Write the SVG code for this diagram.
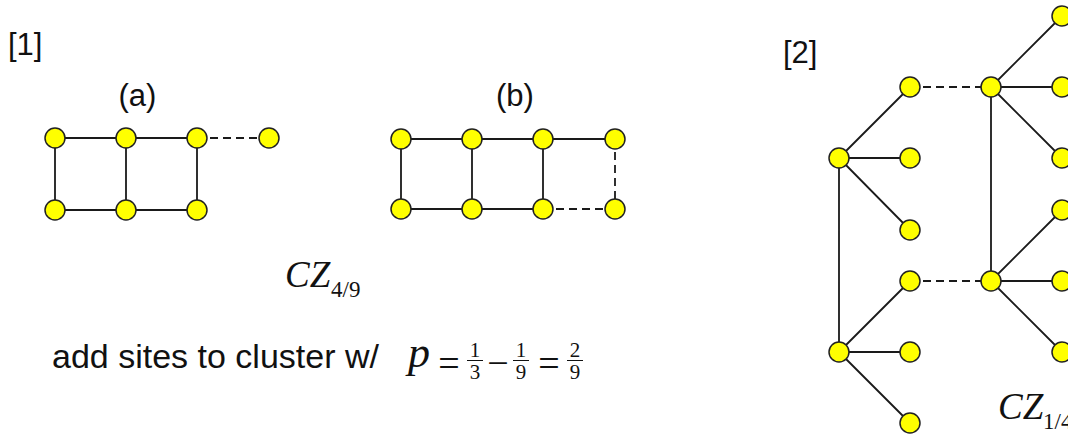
<svg xmlns="http://www.w3.org/2000/svg" width="1068" height="437" viewBox="0 0 1068 437">
<style>
.lbl{font-family:"Liberation Sans",Arial,sans-serif;font-size:31px;fill:#111}
.m{font-family:"Liberation Serif","Times New Roman",serif;fill:#111}
.it{font-style:italic}
.e{stroke:#1a1a1a;stroke-width:1.8;fill:none}
.d{stroke:#1a1a1a;stroke-width:1.8;fill:none;stroke-dasharray:8 5}
.n{fill:#ffff00;stroke:#222;stroke-width:1.5}
.fb{stroke:#111;stroke-width:1}
</style>
<rect width="1068" height="437" fill="#fff"/>
<g id="labels">
<text class="lbl" x="8" y="55">[1]</text>
<text class="lbl" x="137.5" y="106" text-anchor="middle">(a)</text>
<text class="lbl" x="515" y="106" text-anchor="middle">(b)</text>
<text class="lbl" x="783" y="63">[2]</text>
<text class="m it" x="285" y="287" font-size="37">CZ</text>
<text class="m" x="331" y="297" font-size="23">4/9</text>
<text class="lbl" x="52" y="368" font-size="34" style="font-size:34px">add sites to cluster w/</text>
<text class="m it" x="408" y="367" font-size="44">p</text>
<text class="m" x="449" y="376" font-size="38" text-anchor="middle">=</text>
<text class="m" x="475" y="357" font-size="21" text-anchor="middle">1</text>
<text class="m" x="475" y="379" font-size="21" text-anchor="middle">3</text>
<text class="m" x="498" y="376" font-size="38" text-anchor="middle">−</text>
<text class="m" x="521" y="357" font-size="21" text-anchor="middle">1</text>
<text class="m" x="521" y="379" font-size="21" text-anchor="middle">9</text>
<text class="m" x="549" y="376" font-size="38" text-anchor="middle">=</text>
<text class="m" x="575" y="357" font-size="21" text-anchor="middle">2</text>
<text class="m" x="575" y="379" font-size="21" text-anchor="middle">9</text>
<line class="fb" x1="467" y1="360.5" x2="483" y2="360.5"/>
<line class="fb" x1="513" y1="360.5" x2="529" y2="360.5"/>
<line class="fb" x1="567" y1="360.5" x2="583" y2="360.5"/>
<text class="m it" x="998" y="419" font-size="37">CZ</text>
<text class="m" x="1043" y="429" font-size="23">1/4</text>
</g>
<g id="connectors">
<path class="e" d="M55 138H197M55 210H197M55 138V210M126 138V210M197 138V210"/>
<path class="d" d="M197 138H269"/>
<path class="e" d="M401 139H615M401 209H543M401 139V209M472 139V209M543 139V209"/>
<path class="d" d="M543 209H615M615 139V209"/>
<path class="e" d="M839 158L910 87M839 158H910M839 158L910 230M839 158V352M839 352L910 281M839 352H910M839 352L910 423"/>
<path class="d" d="M910 87H991M910 281H991"/>
<path class="e" d="M991 87L1062 16M991 87H1062M991 87L1062 158M991 87V281M991 281L1062 210M991 281H1062M991 281L1062 352"/>
</g>
<g id="nodes-a">
<circle id="a1" class="n" cx="55" cy="138" r="10"/>
<circle id="a2" class="n" cx="126" cy="138" r="10"/>
<circle id="a3" class="n" cx="197" cy="138" r="10"/>
<circle id="a4" class="n" cx="269" cy="138" r="10"/>
<circle id="a5" class="n" cx="55" cy="210" r="10"/>
<circle id="a6" class="n" cx="126" cy="210" r="10"/>
<circle id="a7" class="n" cx="197" cy="210" r="10"/>
</g>
<g id="nodes-b">
<circle id="b1" class="n" cx="401" cy="139" r="10"/>
<circle id="b2" class="n" cx="472" cy="139" r="10"/>
<circle id="b3" class="n" cx="543" cy="139" r="10"/>
<circle id="b4" class="n" cx="615" cy="139" r="10"/>
<circle id="b5" class="n" cx="401" cy="209" r="10"/>
<circle id="b6" class="n" cx="472" cy="209" r="10"/>
<circle id="b7" class="n" cx="543" cy="209" r="10"/>
<circle id="b8" class="n" cx="615" cy="209" r="10"/>
</g>
<g id="nodes-2">
<circle id="c1" class="n" cx="839" cy="158" r="10"/>
<circle id="c2" class="n" cx="839" cy="352" r="10"/>
<circle id="c3" class="n" cx="910" cy="87" r="10"/>
<circle id="c4" class="n" cx="910" cy="158" r="10"/>
<circle id="c5" class="n" cx="910" cy="230" r="10"/>
<circle id="c6" class="n" cx="910" cy="281" r="10"/>
<circle id="c7" class="n" cx="910" cy="352" r="10"/>
<circle id="c8" class="n" cx="910" cy="423" r="10"/>
<circle id="c9" class="n" cx="991" cy="87" r="10"/>
<circle id="c10" class="n" cx="991" cy="281" r="10"/>
<circle id="c11" class="n" cx="1062" cy="16" r="10"/>
<circle id="c12" class="n" cx="1062" cy="87" r="10"/>
<circle id="c13" class="n" cx="1062" cy="158" r="10"/>
<circle id="c14" class="n" cx="1062" cy="210" r="10"/>
<circle id="c15" class="n" cx="1062" cy="281" r="10"/>
<circle id="c16" class="n" cx="1062" cy="352" r="10"/>
</g>
</svg>
